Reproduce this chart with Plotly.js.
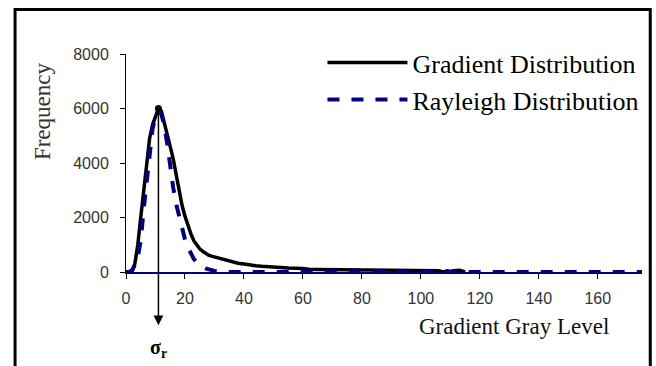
<!DOCTYPE html>
<html>
<head>
<meta charset="utf-8">
<script src="https://cdn.plot.ly/plotly-3.0.1.min.js"></script>
<style>html,body{margin:0;padding:0;background:#fff;}#chart{width:656px;height:366px;}</style>
</head>
<body>
<div id="chart"></div>
<script>
// Gradient distribution (black solid)
const gradX = [0,1,2,3,4,5,6,7,8,9,10,11,12,13,14,15,16,17,18,19,20,21,22,23,24,25,26,27,28,29,30,32,34,36,38,40,42,44,46,48,50,55,60,62,65,70,75,80,85,90,95,100,105,106,107,108,109,110,111,112,113,114,115];
const gradY = [0,0,0,300,1000,2000,3000,4000,4900,5400,5750,6000,5900,5500,5000,4600,4150,3550,3000,2450,2050,1700,1400,1150,980,850,760,680,620,580,550,480,420,370,320,290,250,230,210,190,170,150,130,100,95,90,85,80,75,70,65,60,55,50,20,10,40,20,50,60,60,40,0];
// Rayleigh distribution (blue dashed)
const rayX = [0,1,2,3,4,5,6,7,8,9,10,11,12,13,14,15,16,17,18,19,20,21,22,23,24,25,26,27,28,29,30,31,32,33,34,175];
const rayY = [0,0,60,250,550,1150,2300,3350,4350,5250,5700,5880,5800,5350,4700,3850,3100,2500,2050,1600,1200,900,650,480,350,250,180,130,90,60,40,25,15,5,0,0];
// peak / sigma_r
const peakX = [11];
const peakY = [6000];
const xTicks = [0,20,40,60,80,100,120,140,160];
const yTicks = [0,2000,4000,6000,8000];

const serif = "Liberation Serif, Times New Roman, serif";
const sans = "Liberation Sans, Arial, sans-serif";

const traces = [
  {x: gradX, y: gradY, type: 'scatter', mode: 'lines', name: 'Gradient Distribution',
   line: {color: '#000000', width: 3.5}},
  {x: rayX, y: rayY, type: 'scatter', mode: 'lines', name: 'Rayleigh Distribution',
   line: {color: '#000080', width: 4, dash: 'dash'}},
  {x: peakX, y: peakY, type: 'scatter', mode: 'markers', showlegend: false,
   marker: {color: '#000000', size: 7}, cliponaxis: false}
];

const layout = {
  width: 656, height: 366,
  margin: {l: 126, r: 13, t: 54, b: 94},
  paper_bgcolor: '#ffffff', plot_bgcolor: '#ffffff',
  showlegend: true,
  legend: {x: 0.38, y: 1.068, xanchor: 'left', yanchor: 'top', bgcolor: 'rgba(0,0,0,0)',
           font: {family: serif, size: 26, color: '#000'}, itemwidth: 80, tracegroupgap: 0},
  xaxis: {range: [0, 175], tickvals: xTicks, ticks: 'outside', ticklen: 5, tickcolor: '#000',
          showline: true, linecolor: '#000080', linewidth: 2, showgrid: false, zeroline: false,
          tickfont: {family: sans, size: 16, color: '#333'}, ticklabelstandoff: 6},
  yaxis: {range: [0, 8000], tickvals: yTicks, ticks: 'outside', ticklen: 5, tickcolor: '#000',
          showline: true, linecolor: '#000', linewidth: 1, showgrid: false, zeroline: false,
          tickfont: {family: sans, size: 16, color: '#333'}, ticklabelstandoff: 8},
  annotations: [
    {xref: 'x', yref: 'y', x: peakX[0], y: -1950, axref: 'x', ayref: 'y', ax: peakX[0], ay: peakY[0],
     text: '', showarrow: true, arrowhead: 2, arrowsize: 1.3, arrowwidth: 1.5, arrowcolor: '#000'},
    {xref: 'x', yref: 'paper', x: peakX[0], y: -0.35, text: '<b>σ<sub>r</sub></b>', showarrow: false,
     font: {family: serif, size: 20, color: '#000'}, xanchor: 'center', yanchor: 'middle'},
    {xref: 'paper', yref: 'paper', x: -0.162, y: 0.74, text: 'Frequency', textangle: -90, showarrow: false,
     font: {family: serif, size: 23, color: '#333'}, xanchor: 'center', yanchor: 'middle'},
    {xref: 'paper', yref: 'paper', x: 0.752, y: -0.25, text: 'Gradient Gray Level', showarrow: false,
     font: {family: serif, size: 23, color: '#111'}, xanchor: 'center', yanchor: 'middle'}
  ],
  shapes: [
    {type: 'path', xref: 'paper', yref: 'paper',
     path: 'M -0.215,-0.5 L -0.215,1.204 L 1.016,1.204 L 1.016,-0.5',
     line: {color: '#000', width: 3}}
  ]
};

Plotly.newPlot('chart', traces, layout, {staticPlot: true, displayModeBar: false});
</script>
</body>
</html>
